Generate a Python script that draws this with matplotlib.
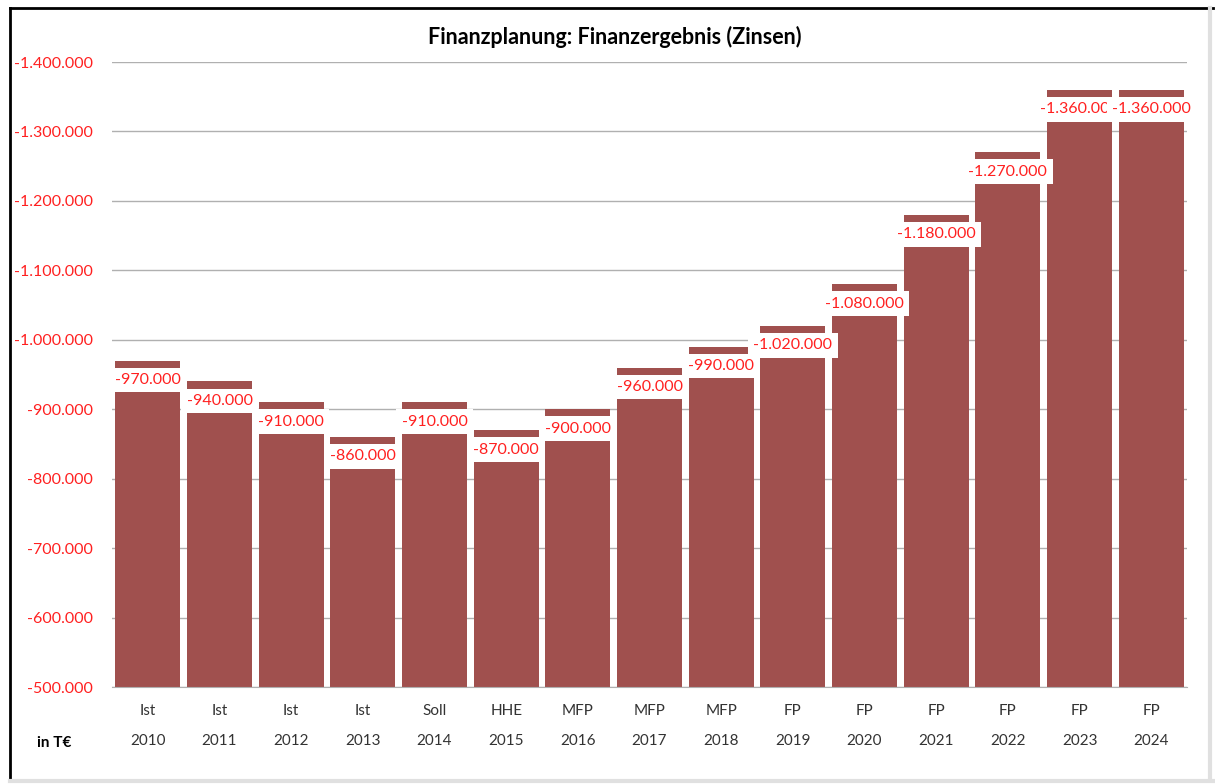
import numpy as np
import matplotlib.pyplot as plt
from matplotlib.lines import Line2D

# Data
years = ["2010", "2011", "2012", "2013", "2014", "2015", "2016", "2017",
         "2018", "2019", "2020", "2021", "2022", "2023", "2024"]
kinds = ["Ist", "Ist", "Ist", "Ist", "Soll", "HHE", "MFP", "MFP",
         "MFP", "FP", "FP", "FP", "FP", "FP", "FP"]
values = [-970000, -940000, -910000, -860000, -910000, -870000, -900000, -960000,
          -990000, -1020000, -1080000, -1180000, -1270000, -1360000, -1360000]
yticks = [-500000, -600000, -700000, -800000, -900000, -1000000, -1100000,
          -1200000, -1300000, -1400000]

plt.rcParams['font.family'] = ['Lato', 'DejaVu Sans']

def fmt(v):
    return f"{v:,.0f}".replace(",", ".")

base = -500000
bar_color = '#A0504E'

fig = plt.figure(figsize=(12.15, 7.84), dpi=100)
ax = fig.add_axes([0.0922, 0.1237, 0.8848, 0.7972])

x = np.arange(len(years))
vals = np.array(values)
ax.bar(x, vals - base, bottom=base, width=0.91, color=bar_color, zorder=2)

# value labels with white box (cuts a gap into the bar top)
for xi, v in zip(x, vals):
    ax.text(xi, v + 28000, fmt(v), ha='center', va='center', fontsize=11.5,
            color='#FF2020', zorder=4,
            bbox=dict(boxstyle='square,pad=0.33', fc='white', ec='none'))

ax.set_ylim(-500000, -1400000)
ax.set_xlim(-0.5, len(years) - 0.5)
ax.set_yticks(yticks)
ax.set_yticklabels([fmt(t) for t in yticks], color='#FF2020', fontsize=11.5)
ax.yaxis.grid(True, color='#B0B0B0', lw=1, zorder=0)
ax.set_axisbelow(True)
ax.tick_params(axis='y', length=0, pad=14)
ax.tick_params(axis='x', length=0, pad=12)
ax.set_xticks(x)
ax.set_xticklabels([f"{k}\n{y}" for k, y in zip(kinds, years)],
                   fontsize=11, color='#333333', linespacing=2.45)
for s in ['left', 'right', 'top']:
    ax.spines[s].set_visible(False)
ax.spines['bottom'].set_color('#B0B0B0')

fig.text(0.506, 0.953, "Finanzplanung: Finanzergebnis (Zinsen)", ha='center',
         va='center', fontsize=15.5, fontweight='bold')
fig.text(0.045, 0.052, "in T€", ha='center', va='center', fontsize=11,
         fontweight='bold')

# chart frame
fig.add_artist(Line2D([0.008, 0.008], [0.006, 0.99], color='black', lw=2))
fig.add_artist(Line2D([0.008, 0.998], [0.99, 0.99], color='black', lw=2))
fig.add_artist(Line2D([0.996, 0.996], [0.006, 0.99], color='#E0E0E0', lw=3))
fig.add_artist(Line2D([0.008, 0.998], [0.004, 0.004], color='#E0E0E0', lw=3))

fig.savefig("out.png", dpi=100)
